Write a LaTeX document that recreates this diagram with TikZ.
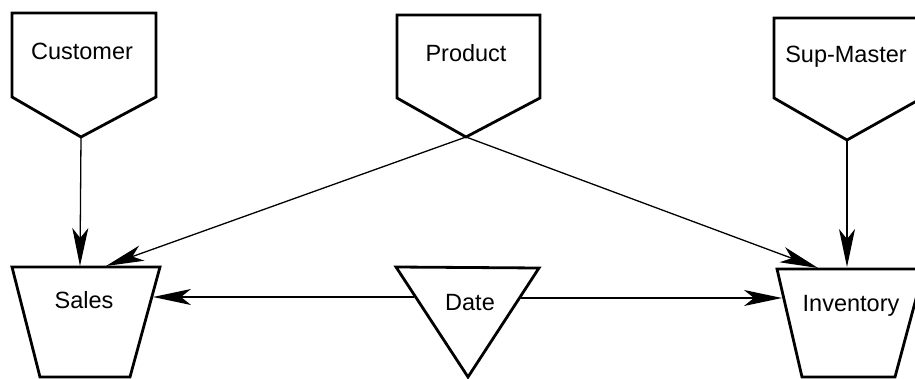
\documentclass[tikz,border=0pt]{standalone}
\usepackage{fontspec}
\setmainfont{Liberation Sans}
\usetikzlibrary{arrows.meta}
\begin{document}
\begin{tikzpicture}[x=1pt,y=-1pt,
  shapeline/.style={line width=2.8pt, line join=miter},
  conn/.style={line width=1.3pt, -{Stealth[length=38pt,width=16pt,inset=10pt]}},
  lbl/.style={font=\fontsize{23.5}{28}\selectfont, anchor=base, inner sep=0pt}]
\useasboundingbox (0,0) rectangle (915,379);
\clip (0,0) rectangle (915,379);
% shapes
\draw[shapeline] (12,13) -- (156,13) -- (156,97) -- (81,137) -- (12,97) -- cycle;
\draw[shapeline] (397,15) -- (540,15) -- (540,98) -- (466,137) -- (397,98) -- cycle;
\draw[shapeline] (774,18) -- (922,18) -- (922,98) -- (847,140) -- (774,98) -- cycle;
\draw[shapeline] (12,267) -- (160,267) -- (130,377) -- (40,377) -- cycle;
\draw[shapeline] (396,267) -- (539,268) -- (468,377) -- cycle;
\draw[shapeline] (777,269) -- (924,269) -- (895,377) -- (802,377) -- cycle;
% labels
\node[lbl] (customer) at (82,60) {Customer};
\node[lbl] (product) at (466,62) {Product};
\node[lbl] (supmaster) at (846,63) {Sup-Master};
\node[lbl] (sales) at (84,308) {Sales};
\node[lbl] (date) at (470,310) {Date};
\node[lbl] (inventory) at (851,311) {Inventory};
% connection points
\coordinate (custTip) at (81,137);
\coordinate (prodTip) at (466,137);
\coordinate (supTip) at (847,140);
\coordinate (salesTopA) at (80,266);
\coordinate (salesTopB) at (106,266);
\coordinate (salesRight) at (153,297);
\coordinate (invTopA) at (818,268);
\coordinate (invTopB) at (847,267);
\coordinate (invLeft) at (782,298);
\coordinate (dateLeft) at (414,297);
\coordinate (dateRight) at (521,298);
% connectors
\draw[conn] (custTip) -- (salesTopA);
\draw[conn] (prodTip) -- (salesTopB);
\draw[conn] (prodTip) -- (invTopA);
\draw[conn] (supTip) -- (invTopB);
\draw[conn] (dateLeft) -- (salesRight);
\draw[conn] (dateRight) -- (invLeft);
\end{tikzpicture}
\end{document}
